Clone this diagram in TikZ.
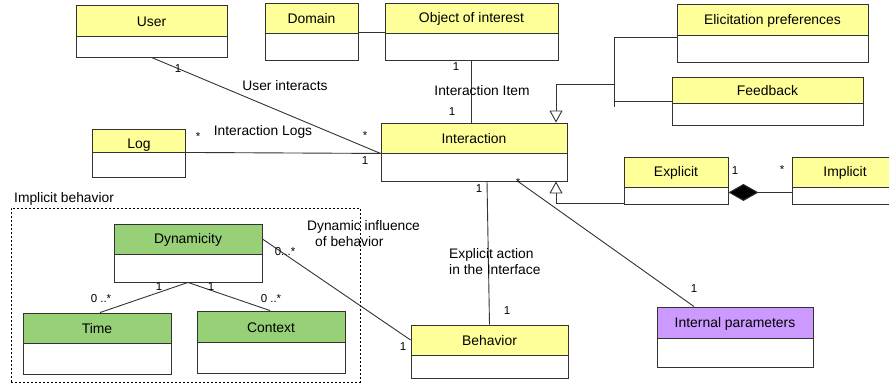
\documentclass[tikz,border=0pt]{standalone}
\usepackage{fontspec}
\setmainfont{Liberation Sans}
\usetikzlibrary{arrows.meta,fit}
\definecolor{umlyellow}{HTML}{FFFF99}
\definecolor{umlgreen}{HTML}{97D077}
\definecolor{umlpurple}{HTML}{CC99FF}
\definecolor{linegray}{HTML}{333333}
\tikzset{
  boxline/.style={draw=linegray, line width=0.9pt},
  clsbody/.style={boxline, fill=white, inner sep=0pt},
  clshead/.style={boxline, inner sep=0pt},
  clsname/.style={inner sep=0pt, font=\fontsize{13.9}{16}\selectfont},
  lbl/.style={inner sep=0pt, font=\fontsize{13.8}{16}\selectfont},
  mult/.style={inner sep=0pt, font=\fontsize{11.5}{13}\selectfont},
  conn/.style={draw=linegray, line width=0.9pt},
  gen/.style={conn, -{Triangle[open, length=12pt, width=13pt]}},
  comp/.style={conn, {Diamond[length=30pt, width=17pt, fill=black]}-},
  groupbox/.style={draw=black, line width=0.7pt, dash pattern=on 2pt off 2pt},
}
% name, x1, y1, x2, y2, ydiv, colour, text
\newcommand{\umlbox}[8]{%
  \node[clsbody, fit={(#2,#3)(#4,#5)}] (#1) {};
  \node[clshead, fill=#7, fit={(#2,#3)(#4,#6)}] (#1h) {};
  \node[clsname] (#1t) at ([yshift=-1pt]#1h.center) {#8};
}
\begin{document}
\begin{tikzpicture}[x=1pt, y=-1pt]
\useasboundingbox (0,0) rectangle (889,385);

% group box
\node[groupbox, inner sep=0pt, fit={(11,208)(360,382)}] (grp) {};
\node[lbl, anchor=west] (grpt) at (14,199) {Implicit behavior};

% classes
\umlbox{user}{76}{5}{227}{57}{36}{umlyellow}{User}
\umlbox{dom}{265}{3}{358}{60}{33}{umlyellow}{Domain}
\umlbox{obj}{385}{3}{558}{60}{33}{umlyellow}{Object of interest}
\umlbox{elic}{677}{4}{868}{62}{35}{umlyellow}{Elicitation preferences}
\umlbox{feed}{672}{77}{863}{125}{103}{umlyellow}{Feedback}
\umlbox{log}{92}{129}{185}{177}{152}{umlyellow}{}
\node[clsname] (logt) at (139,145) {Log};
\umlbox{inter}{381}{123}{567}{181}{153}{umlyellow}{Interaction}
\umlbox{expl}{624}{157}{728}{204}{187}{umlyellow}{Explicit}
\umlbox{impl}{792}{157}{898}{204}{187}{umlyellow}{Implicit}
\umlbox{dyn}{114}{224}{262}{282}{254}{umlgreen}{Dynamicity}
\umlbox{time}{23}{313}{171}{374}{343}{umlgreen}{Time}
\umlbox{ctx}{197}{311}{345}{373}{342}{umlgreen}{Context}
\umlbox{beh}{411}{325}{568}{378}{355}{umlyellow}{Behavior}
\umlbox{intp}{657}{307}{813}{367}{338}{umlpurple}{Internal parameters}

% associations
\draw[conn] (user.south) -- (interh.south west);
\draw[conn] (logh.south east) -- (interh.south west);
\draw[conn] ([yshift=1pt]domh.south east) -- ([yshift=1pt]objh.south west);
\draw[conn] (obj.south) -- (obj.south |- inter.north);
\draw[conn] ([xshift=13pt]inter.south) -- (beh.north);
\draw[conn] ([xshift=44pt]inter.south) -- ([xshift=-41pt]intp.north);
\draw[conn] (dynh.east) -- (behh.west);
\draw[conn] (dyn.south) -- ([xshift=3pt]time.north);
\draw[conn] (dyn.south) -- ([xshift=-1pt]ctx.north);

% generalisation of Interaction (Elicitation preferences, Feedback)
\coordinate (bus) at (614,84);
\coordinate (busbot) at (614,107);
\draw[conn] ([yshift=-2pt]elich.south west) -| (busbot);
\draw[conn] ([yshift=2pt]feedh.south west) -- ([yshift=2pt]feedh.south west -| bus);
\draw[gen] (bus) -| ([xshift=82pt]inter.north);
\draw[gen] ([yshift=1pt]expl.south west) -| ([xshift=82pt]inter.south);

% composition Explicit - Implicit
\draw[comp] ([yshift=-5pt]explh.south east) -- ([yshift=-5pt]implh.south west);

% labels
\node[mult] (m1) at (178,69) {1};
\node[lbl] (l1) at (285,86) {User interacts};
\node[mult] (m2) at (365,136) {*};
\node[mult] (m3) at (198,137) {*};
\node[lbl] (l2) at (263,132) {Interaction Logs};
\node[mult] (m4) at (365,161) {1};
\node[mult] (m5) at (456,67) {1};
\node[lbl] (l3) at (482,91) {Interaction Item};
\node[mult] (m6) at (452,112) {1};
\node[mult] (m7) at (735,171) {1};
\node[mult] (m8) at (782,170) {*};
\node[mult] (m9) at (479,189) {1};
\node[mult] (m10) at (518,183) {*};
\node[lbl, anchor=north west, align=left] (l4) at (449,248) {Explicit action\\in the Interface};
\node[mult] (m11) at (507,311) {1};
\node[mult] (m12) at (694,289) {1};
\node[lbl, anchor=north west, align=left] (l5) at (307,220) {Dynamic influence\\\hspace*{8pt}of behavior};
\node[mult] (m13) at (285,252) {0...*};
\node[mult] (m14) at (159,287) {1};
\node[mult] (m15) at (211,287) {1};
\node[mult] (m16) at (101,299) {0 ..*};
\node[mult] (m17) at (271,299) {0 ..*};
\node[mult] (m18) at (403,347) {1};
\end{tikzpicture}
\end{document}
